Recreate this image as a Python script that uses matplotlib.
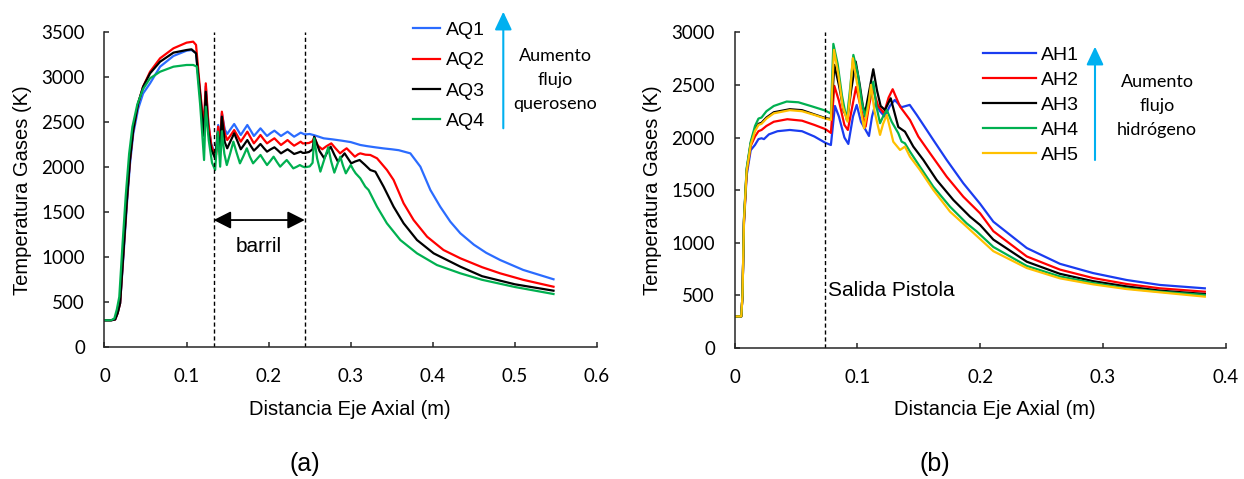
import matplotlib
matplotlib.use("Agg")
import matplotlib.pyplot as plt
from matplotlib.patches import FancyArrowPatch

# ---------------- data: panel (a) ----------------
aq_labels = ["AQ1", "AQ2", "AQ3", "AQ4"]
aq_colors = ["#2B6CFF", "#FF0000", "#000000", "#00B050"]

aq1_x = [0, 0.008, 0.013, 0.016, 0.019, 0.023, 0.027, 0.031, 0.035, 0.041, 0.047, 0.0555, 0.0677, 0.084, 0.1, 0.106,
         0.1115, 0.1165, 0.121, 0.1234, 0.1265, 0.130, 0.1335, 0.136, 0.1385, 0.1405, 0.143, 0.1465, 0.1495,
         0.154, 0.158, 0.162, 0.166, 0.170, 0.174, 0.178, 0.182, 0.186, 0.190, 0.194, 0.198, 0.2025, 0.207,
         0.211, 0.215, 0.219, 0.223, 0.227, 0.231, 0.235, 0.239, 0.244, 0.250, 0.256, 0.267, 0.278, 0.289,
         0.300, 0.3116, 0.320, 0.330, 0.340, 0.350, 0.3585, 0.3726, 0.3848, 0.397, 0.409,
         0.4213, 0.4335, 0.450, 0.465, 0.482, 0.510, 0.547]
aq1_T = [300, 300, 310, 380, 490, 1000, 1550, 2030, 2370, 2650, 2820, 2933, 3118, 3237, 3296, 3303,
         3270, 2820, 2400, 2900, 2480, 2260, 2180, 2170, 2470, 2260, 2600, 2420, 2370,
         2430, 2481, 2420, 2359, 2415, 2470, 2410, 2348, 2390, 2433, 2390, 2348, 2380, 2407,
         2378, 2348, 2372, 2396, 2368, 2340, 2362, 2385, 2365, 2370, 2355, 2322, 2310, 2296,
         2280, 2248, 2235, 2222, 2210, 2200, 2190, 2155, 2007, 1748, 1562,
         1396, 1267, 1140, 1050, 970, 860, 756]

aq2_x = [0, 0.008, 0.013, 0.016, 0.019, 0.023, 0.027, 0.031, 0.035, 0.041, 0.047, 0.0555, 0.0677, 0.084, 0.1, 0.108,
         0.1115, 0.1165, 0.121, 0.1234, 0.1265, 0.130, 0.1335, 0.136, 0.1385, 0.1405, 0.143, 0.1465, 0.1495,
         0.154, 0.158, 0.162, 0.166, 0.170, 0.174, 0.178, 0.182, 0.186, 0.190, 0.194, 0.198, 0.2025, 0.207,
         0.211, 0.215, 0.219, 0.223, 0.227, 0.231, 0.235, 0.239, 0.2415, 0.244, 0.249, 0.2535, 0.2555, 0.260,
         0.2653, 0.2705, 0.2763, 0.2815, 0.287, 0.291, 0.295, 0.300, 0.305, 0.309, 0.3116, 0.318, 0.3238,
         0.332, 0.3441, 0.3522, 0.3644, 0.3766, 0.393, 0.413, 0.4335, 0.460, 0.482, 0.510, 0.547]
aq2_T = [300, 300, 310, 380, 490, 1044, 1600, 2081, 2414, 2711, 2895, 3062, 3211, 3322, 3385, 3396,
         3360, 2850, 2450, 2933, 2500, 2250, 2150, 2140, 2452, 2230, 2618, 2380, 2303,
         2360, 2414, 2350, 2285, 2340, 2396, 2330, 2266, 2310, 2359, 2310, 2266, 2295, 2322,
         2285, 2248, 2275, 2303, 2270, 2240, 2262, 2285, 2265, 2266, 2270, 2290, 2335, 2240,
         2200, 2235, 2266, 2210, 2155, 2185, 2211, 2165, 2118, 2145, 2155, 2140, 2137,
         2100, 1970, 1859, 1600, 1414, 1229, 1081, 989, 890, 822, 750, 673]

aq3_x = [0, 0.008, 0.013, 0.016, 0.019, 0.023, 0.027, 0.031, 0.035, 0.041, 0.047, 0.0555, 0.0677, 0.084, 0.1, 0.106,
         0.1115, 0.1165, 0.121, 0.1234, 0.1265, 0.130, 0.1348, 0.138, 0.1405, 0.143, 0.1465, 0.1495,
         0.154, 0.158, 0.162, 0.166, 0.170, 0.174, 0.178, 0.182, 0.186, 0.190, 0.194, 0.198, 0.2025, 0.207,
         0.211, 0.215, 0.219, 0.223, 0.227, 0.231, 0.235, 0.239, 0.2415, 0.244, 0.249, 0.2535, 0.2555, 0.262,
         0.2677, 0.2715, 0.2755, 0.280, 0.2844, 0.2885, 0.2925, 0.2965, 0.3006, 0.3055, 0.3108, 0.3170, 0.3238,
         0.330, 0.340, 0.3522, 0.3644, 0.3807, 0.401, 0.4335, 0.460, 0.500, 0.547]
aq3_T = [300, 300, 310, 380, 490, 1044, 1600, 2081, 2414, 2711, 2895, 3044, 3173, 3274, 3303, 3311,
         3266, 2800, 2350, 2840, 2400, 2200, 2100, 2378, 2180, 2563, 2280, 2211,
         2300, 2378, 2290, 2200, 2250, 2303, 2240, 2185, 2220, 2259, 2215, 2174, 2200, 2222,
         2190, 2155, 2178, 2200, 2175, 2148, 2160, 2174, 2160, 2160, 2170, 2200, 2340, 2180,
         2100, 2170, 2229, 2140, 2063, 2110, 2155, 2100, 2044, 2065, 2081, 2030, 1970,
         1951, 1785, 1562, 1378, 1192, 1044, 896, 790, 700, 629]

aq4_x = [0, 0.008, 0.012, 0.015, 0.018, 0.022, 0.026, 0.030, 0.034, 0.040, 0.047, 0.0555, 0.0677, 0.084, 0.1, 0.108,
         0.1124, 0.1165, 0.1213, 0.1234, 0.127, 0.131, 0.1348, 0.138, 0.1409, 0.143, 0.146, 0.149,
         0.153, 0.157, 0.161, 0.165, 0.169, 0.1734, 0.177, 0.181, 0.1855, 0.190, 0.194, 0.198, 0.202, 0.206,
         0.210, 0.214, 0.218, 0.222, 0.226, 0.230, 0.234, 0.238, 0.241, 0.244, 0.250, 0.2535, 0.2555, 0.259,
         0.263, 0.2675, 0.2726, 0.276, 0.280, 0.2835, 0.2873, 0.2905, 0.294, 0.297, 0.300, 0.303, 0.306,
         0.3116, 0.3177, 0.3217, 0.332, 0.344, 0.3604, 0.3807, 0.405, 0.4335, 0.460, 0.500, 0.547]
aq4_T = [300, 300, 320, 420, 560, 1150, 1700, 2150, 2450, 2700, 2870, 2989, 3062, 3118, 3137, 3137,
         3120, 2700, 2081, 2674, 2300, 2050, 1970, 2396, 2007, 2400, 2150, 2025,
         2150, 2285, 2160, 2044, 2120, 2211, 2120, 2044, 2090, 2137, 2080, 2025, 2070, 2118,
         2060, 2007, 2045, 2081, 2035, 1988, 2005, 2025, 2010, 2000, 2010, 2050, 2322, 2100,
         1952, 2080, 2222, 2070, 1941, 2030, 2118, 2020, 1933, 1980, 2026, 1975, 1933,
         1878, 1785, 1748, 1562, 1378, 1192, 1044, 914, 822, 750, 670, 592]

# ---------------- data: panel (b) ----------------
ah_labels = ["AH1", "AH2", "AH3", "AH4", "AH5"]
ah_colors = ["#1A3CF0", "#FF0000", "#000000", "#00B050", "#FFC000"]

ah1_x = [0, 0.0055, 0.0065, 0.0077, 0.0099, 0.0132, 0.0167, 0.0195, 0.022, 0.024, 0.028, 0.035, 0.045, 0.055,
         0.065, 0.074, 0.0785, 0.0818, 0.085, 0.0895, 0.0927, 0.0965, 0.0995, 0.103, 0.1095, 0.112, 0.115,
         0.1185, 0.1223, 0.1265, 0.1305, 0.136, 0.1427, 0.1484, 0.1538, 0.1619, 0.1728, 0.1863, 0.200,
         0.2108, 0.238, 0.265, 0.292, 0.3194, 0.3465, 0.383]
ah1_T = [300, 300, 500, 1180, 1640, 1880, 1930, 1985, 1993, 1985, 2030, 2060, 2072, 2060,
         2010, 1950, 1929, 2300, 2200, 2000, 1939, 2200, 2310, 2150, 2015, 2200, 2332,
         2250, 2199, 2300, 2357, 2288, 2310, 2215, 2120, 1977, 1787, 1566, 1370,
         1200, 950, 800, 712, 646, 599, 567]

ah2_x = [0, 0.0055, 0.0065, 0.0077, 0.0099, 0.0132, 0.0167, 0.0195, 0.022, 0.026, 0.032, 0.043, 0.055,
         0.065, 0.074, 0.0785, 0.0813, 0.085, 0.0895, 0.0923, 0.096, 0.099, 0.1035, 0.1068, 0.1095, 0.1125,
         0.117, 0.1217, 0.1255, 0.1288, 0.1348, 0.1429, 0.1497, 0.1592, 0.1728, 0.1863, 0.200, 0.2108,
         0.238, 0.265, 0.292, 0.3194, 0.3465, 0.383]
ah2_T = [300, 300, 500, 1200, 1670, 1920, 2010, 2060, 2072, 2110, 2150, 2174, 2160,
         2120, 2080, 2044, 2491, 2350, 2120, 2072, 2300, 2480, 2250, 2104, 2300, 2470,
         2300, 2231, 2380, 2459, 2294, 2167, 2009, 1851, 1628, 1438, 1280, 1110,
         870, 745, 665, 608, 567, 535]

ah3_x = [0, 0.0055, 0.0065, 0.0077, 0.0099, 0.0132, 0.0167, 0.0195, 0.022, 0.026, 0.032, 0.045, 0.055,
         0.065, 0.074, 0.0785, 0.0813, 0.085, 0.089, 0.092, 0.095, 0.0987, 0.102, 0.1045, 0.1063, 0.109,
         0.113, 0.116, 0.119, 0.1225, 0.1272, 0.1334, 0.1388, 0.1456, 0.1538, 0.1646, 0.1782, 0.1918,
         0.200, 0.2108, 0.238, 0.265, 0.292, 0.3194, 0.3465, 0.383]
ah3_T = [300, 300, 500, 1217, 1692, 1946, 2080, 2130, 2140, 2190, 2240, 2269, 2260,
         2220, 2185, 2175, 2690, 2500, 2250, 2183, 2450, 2722, 2500, 2300, 2231, 2400,
         2649, 2450, 2300, 2262, 2373, 2100, 2056, 1914, 1787, 1597, 1407, 1248,
         1169, 1030, 820, 705, 635, 585, 545, 513]

ah4_x = [0, 0.0055, 0.0065, 0.0077, 0.0099, 0.0132, 0.0167, 0.0195, 0.022, 0.026, 0.032, 0.0425, 0.052,
         0.062, 0.074, 0.0785, 0.0805, 0.084, 0.0875, 0.0914, 0.094, 0.0968, 0.1005, 0.1035, 0.1063, 0.1095,
         0.113, 0.1155, 0.1185, 0.121, 0.124, 0.128, 0.1334, 0.1361, 0.1388, 0.1429, 0.151, 0.1619, 0.1755,
         0.189, 0.197, 0.2108, 0.238, 0.265, 0.292, 0.3194, 0.3465, 0.383]
ah4_T = [300, 300, 500, 1230, 1710, 1960, 2110, 2180, 2190, 2250, 2300, 2342, 2335,
         2300, 2256, 2228, 2890, 2700, 2400, 2167, 2450, 2785, 2600, 2350, 2199, 2350,
         2531, 2300, 2136, 2200, 2262, 2150, 2041, 1961, 1945, 1866, 1723, 1533, 1343,
         1185, 1110, 960, 780, 680, 618, 567, 535, 504]

ah5_x = [0, 0.0055, 0.0065, 0.0077, 0.0099, 0.0132, 0.0167, 0.0195, 0.022, 0.026, 0.032, 0.045, 0.055,
         0.065, 0.074, 0.0785, 0.081, 0.0845, 0.088, 0.092, 0.094, 0.0963, 0.100, 0.103, 0.1055, 0.109,
         0.1111, 0.114, 0.1185, 0.121, 0.124, 0.1293, 0.1348, 0.1388, 0.1429, 0.151, 0.1619, 0.1755, 0.189,
         0.2108, 0.238, 0.265, 0.292, 0.3194, 0.3465, 0.383]
ah5_T = [300, 300, 500, 1200, 1680, 1930, 2060, 2120, 2130, 2180, 2230, 2260, 2250,
         2215, 2180, 2167, 2833, 2600, 2300, 2151, 2400, 2754, 2500, 2250, 2088, 2300,
         2500, 2250, 2025, 2130, 2215, 1960, 1882, 1914, 1818, 1692, 1502, 1296, 1153,
         920, 760, 662, 605, 560, 529, 488]

# axis ticks / labels
a_xticks = [0, 0.1, 0.2, 0.3, 0.4, 0.5, 0.6]
a_xticklabels = ["0", "0.1", "0.2", "0.3", "0.4", "0.5", "0.6"]
a_yticks = [0, 500, 1000, 1500, 2000, 2500, 3000, 3500]
b_xticks = [0, 0.1, 0.2, 0.3, 0.4]
b_xticklabels = ["0", "0.1", "0.2", "0.3", "0.4"]
b_yticks = [0, 500, 1000, 1500, 2000, 2500, 3000]

barrel_start, barrel_end = 0.133, 0.244
pistol_exit = 0.074
barrel_arrow_T = 1414

# ---------------- figure ----------------
W, H = 1244, 479
fig = plt.figure(figsize=(W / 100, H / 100), dpi=100)


def fx(px):
    return px / W


def fy(py):
    return 1 - py / H


ARIAL = "Liberation Sans"
CAL = "Lato"

axA = fig.add_axes([fx(104.5), fy(347.3), (597 - 104.5) / W, (347.3 - 32.3) / H])
axB = fig.add_axes([fx(734.5), fy(348), (1225.7 - 734.5) / W, (348 - 32.3) / H])

LW = 1.6
aq_x = [aq1_x, aq2_x, aq3_x, aq4_x]
aq_T = [aq1_T, aq2_T, aq3_T, aq4_T]
for xs, ts, lab, c in zip(aq_x, aq_T, aq_labels, aq_colors):
    axA.plot(xs, ts, color=c, lw=LW, label=lab, solid_joinstyle="round")

ah_x = [ah1_x, ah2_x, ah3_x, ah4_x, ah5_x]
ah_T = [ah1_T, ah2_T, ah3_T, ah4_T, ah5_T]
for xs, ts, lab, c in zip(ah_x, ah_T, ah_labels, ah_colors):
    axB.plot(xs, ts, color=c, lw=LW, label=lab, solid_joinstyle="round")


def style(ax, xt, xtl, yt, xmax, ymax):
    ax.set_xlim(0, xmax)
    ax.set_ylim(0, ymax)
    ax.set_xticks(xt, xtl)
    ax.set_yticks(yt)
    for s in ["top", "right"]:
        ax.spines[s].set_visible(False)
    for s in ["left", "bottom"]:
        ax.spines[s].set_linewidth(1.1)
        ax.spines[s].set_color("#262626")
    ax.tick_params(axis="both", direction="in", length=3.8, width=1.1, color="#262626",
                   labelsize=13.5, labelcolor="#000000", labelfontfamily=CAL)
    ax.tick_params(axis="x", pad=15)
    ax.tick_params(axis="y", pad=14)
    ax.set_ylabel("Temperatura Gases (K)", fontsize=14.5, family=ARIAL, va="center")
    ax.set_xlabel("Distancia Eje Axial (m)", fontsize=14.5, family=ARIAL, va="center")


style(axA, a_xticks, a_xticklabels, a_yticks, 0.6, 3500)
style(axB, b_xticks, b_xticklabels, b_yticks, 0.4, 3000)
axA.yaxis.set_label_coords(-0.1675, 0.5)
axB.yaxis.set_label_coords(-0.166, 0.5)
axA.xaxis.set_label_coords(0.498, -0.199)
axB.xaxis.set_label_coords(0.53, -0.196)

# dashed markers
dash = (0, (3, 2))
for xv in (barrel_start, barrel_end):
    axA.axvline(xv, color="black", lw=1.0, linestyle=dash)
axB.axvline(pistol_exit, color="black", lw=1.0, linestyle=dash)

# barrel arrow + text
axA.annotate("", xy=(barrel_end, barrel_arrow_T), xytext=(barrel_start, barrel_arrow_T),
             arrowprops=dict(arrowstyle="<|-|>,head_length=0.75,head_width=0.38", color="black",
                             lw=1.3, shrinkA=0, shrinkB=0, mutation_scale=14))
axA.text((barrel_start + barrel_end) / 2, 1118, "barril", ha="center", va="center",
         fontsize=15, family=ARIAL)
axB.text(pistol_exit + 0.0025, 551, "Salida Pistola", ha="left", va="center",
         fontsize=15, family=ARIAL)

# legends
axA.legend(loc="upper left", bbox_to_anchor=(fx(413), fy(21.5)), bbox_transform=fig.transFigure,
           frameon=False, prop={"family": ARIAL, "size": 14}, borderpad=0,
           borderaxespad=0, handlelength=1.4, handletextpad=0.3, labelspacing=0.65)
axB.legend(loc="upper left", bbox_to_anchor=(fx(983), fy(46.5)), bbox_transform=fig.transFigure,
           frameon=False, prop={"family": ARIAL, "size": 14}, borderpad=0,
           borderaxespad=0, handlelength=2.7, handletextpad=0.26, labelspacing=0.38)

# cyan "increase" arrows and notes
CYAN = "#00B0F0"
for (xp, y0, y1) in [(503.3, 128.3, 11.7), (1095, 160, 46.7)]:
    fig.add_artist(FancyArrowPatch((fx(xp), fy(y0)), (fx(xp), fy(y1)), transform=fig.transFigure,
                                   arrowstyle="-|>,head_length=11,head_width=5.2", color=CYAN,
                                   lw=1.5, shrinkA=0, shrinkB=0, mutation_scale=1))
fig.text(fx(555), fy(80), "Aumento\nflujo\nqueroseno", ha="center", va="center", fontsize=13,
         family=CAL, linespacing=1.62)
fig.text(fx(1157), fy(106), "Aumento\nflujo\nhidrógeno", ha="center", va="center", fontsize=13,
         family=CAL, linespacing=1.58)

fig.text(fx(304.5), fy(464), "(a)", ha="center", va="center", fontsize=18, family=ARIAL)
fig.text(fx(934.6), fy(464), "(b)", ha="center", va="center", fontsize=18, family=ARIAL)

fig.savefig("out.png", dpi=100)
